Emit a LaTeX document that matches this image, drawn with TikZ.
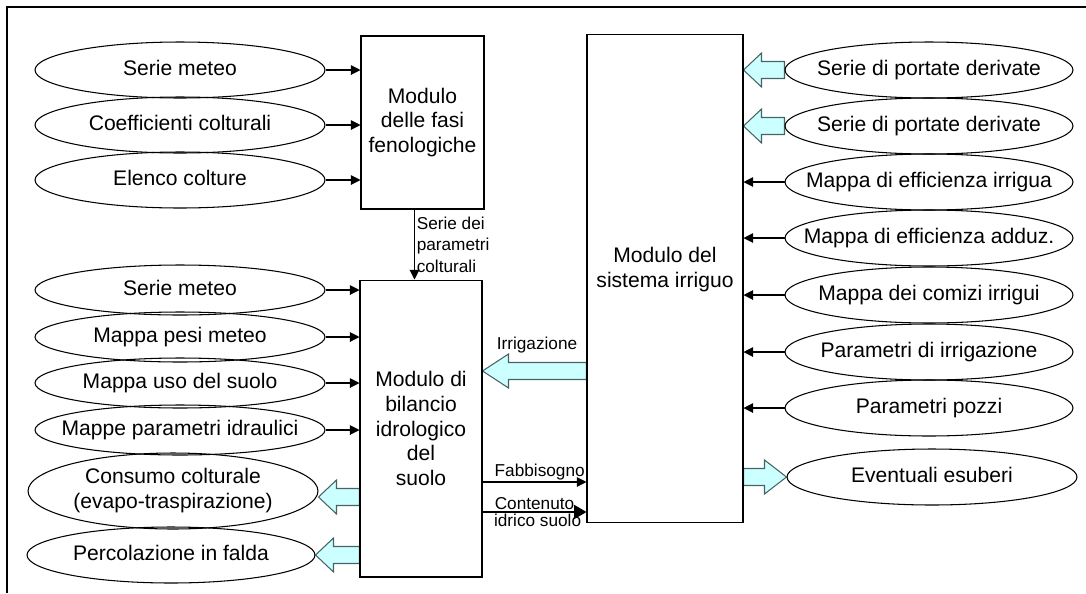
\documentclass[tikz,border=0pt]{standalone}
\usepackage{fontspec}
\setmainfont{Liberation Sans}
\usetikzlibrary{shapes.geometric,arrows.meta,positioning,calc,backgrounds}
\definecolor{fatfill}{RGB}{204,255,255}
\definecolor{fatline}{RGB}{70,100,100}
\tikzset{
  ovalnode/.style={ellipse,draw,line width=0.6pt,inner sep=0pt,minimum width=5.8cm,minimum height=1.12cm,font=\fontsize{12}{14.4}\selectfont},
  modbox/.style={rectangle,draw,line width=0.6pt,align=center,font=\fontsize{12}{14}\selectfont},
  lab/.style={font=\fontsize{9.8}{12.2}\selectfont,inner sep=1pt,align=left},
  arr/.style={-{Triangle[length=5.5pt,width=5.5pt]},line width=0.6pt},
  fatarr/.style={fill=fatfill,draw=fatline,line width=0.6pt},
  frame/.style={line width=1.2pt}
}
\newcommand{\ovtxt}[1]{\makebox[0pt]{\begin{tabular}{@{}c@{}}#1\end{tabular}}}
\newcommand{\fatarrow}[3][0.36cm]{%
  \path[fatarr] let \p1=(#2), \p2=(#3), \p3=($(#3)!#1!(#2)$) in
    (\x1,\y2+0.17cm) -- (\x3,\y2+0.17cm) -- (\x3,\y2+0.34cm) -- (\x2,\y2)
    -- (\x3,\y2-0.34cm) -- (\x3,\y2-0.17cm) -- (\x1,\y2-0.17cm) -- cycle;}

\begin{document}
\begin{tikzpicture}[x=0.02cm,y=-0.02cm]
  \useasboundingbox (0,0) rectangle (1086,593);
  \draw[frame] (7,593) -- (7,7) -- (1086,7);

  % modules
  \node[modbox,minimum width=2.46cm,minimum height=3.46cm] (fasi) at (422.5,122.5) {Modulo\\delle fasi\\fenologiche};
  \node[modbox,minimum width=2.44cm,minimum height=5.94cm] (bil) at (421,428.5) {Modulo di\\bilancio\\idrologico\\del\\suolo};
  \node[modbox,minimum width=3.12cm,minimum height=9.78cm,text depth=0.45cm] (sys) at (665,278.5) {Modulo del\\sistema irriguo};

  % inputs of the phenology module
  \node[ovalnode] (sm1) at (180,70) {\ovtxt{Serie meteo}};
  \node[ovalnode] (cc) at (180,125) {\ovtxt{Coefficienti colturali}};
  \node[ovalnode] (ec) at (180,180) {\ovtxt{Elenco colture}};

  % inputs and outputs of the soil balance module
  \node[ovalnode,minimum height=1cm] (sm2) at (180,290) {\ovtxt{Serie meteo}};
  \node[ovalnode,minimum height=1cm] (mpm) at (180,337) {\ovtxt{Mappa pesi meteo}};
  \node[ovalnode,minimum height=1cm] (mus) at (180,383) {\ovtxt{Mappa uso del suolo}};
  \node[ovalnode,minimum height=1cm] (mpi) at (180,430) {\ovtxt{Mappe parametri idraulici}};
  \node[ovalnode,minimum height=1.52cm] (con) at (173,491) {\ovtxt{Consumo colturale\\(evapo-traspirazione)}};
  \node[ovalnode,minimum width=5.76cm] (per) at (171,555) {\ovtxt{Percolazione in falda}};

  % inputs and outputs of the irrigation module
  \node[ovalnode,minimum width=5.76cm] (rs1) at (929,70) {\ovtxt{Serie di portate derivate}};
  \node[ovalnode,minimum width=5.76cm] (rs2) at (929,126) {\ovtxt{Serie di portate derivate}};
  \node[ovalnode,minimum width=5.76cm] (mei) at (929,182) {\ovtxt{Mappa di efficienza irrigua}};
  \node[ovalnode,minimum width=5.76cm] (mea) at (929,238) {\ovtxt{Mappa di efficienza adduz.}};
  \node[ovalnode,minimum width=5.76cm] (mci) at (929,295) {\ovtxt{Mappa dei comizi irrigui}};
  \node[ovalnode,minimum width=5.76cm] (pir) at (929,352) {\ovtxt{Parametri di irrigazione}};
  \node[ovalnode,minimum width=5.76cm] (ppz) at (929,408) {\ovtxt{Parametri pozzi}};
  \node[ovalnode] (esu) at (932,477) {\ovtxt{Eventuali esuberi}};

  \draw[arr] (sm1.east) -- (sm1.east -| fasi.west);
  \draw[arr] (cc.east) -- (cc.east -| fasi.west);
  \draw[arr] (ec.east) -- (ec.east -| fasi.west);
  \draw[arr] ([xshift=-0.16cm]fasi.south) -- ([xshift=-0.16cm]fasi.south |- bil.north)
    node[lab,midway,right] {Serie dei\\parametri\\colturali};

  \draw[arr] (sm2.east) -- (sm2.east -| bil.west);
  \draw[arr] (mpm.east) -- (mpm.east -| bil.west);
  \draw[arr] (mus.east) -- (mus.east -| bil.west);
  \draw[arr] (mpi.east) -- (mpi.east -| bil.west);

  \draw[arr] (mei.west) -- (mei.west -| sys.east);
  \draw[arr] (mea.west) -- (mea.west -| sys.east);
  \draw[arr] (mci.west) -- (mci.west -| sys.east);
  \draw[arr] (pir.west) -- (pir.west -| sys.east);
  \draw[arr] (ppz.west) -- (ppz.west -| sys.east);

  \draw[arr] ([yshift=-1.07cm]bil.east) coordinate (fb) -- (fb -| sys.west)
    node[lab,above,pos=0.55] {Fabbisogno};
  \draw[-{Triangle[length=7pt,width=8pt]},line width=0.6pt] ([yshift=-1.67cm]bil.east) coordinate (ci) -- (ci -| sys.west)
    node[lab,above,pos=0.5] {Contenuto}
    node[lab,below,pos=0.53] {idrico suolo};

  \coordinate (irr) at ([yshift=-1.85cm]sys.west);
  \node[lab] (lirr) at (537,345) {Irrigazione};

  \begin{scope}[on background layer]
    \fatarrow{rs1.west}{rs1.west -| sys.east}
    \fatarrow{rs2.west}{rs2.west -| sys.east}
    \fatarrow[0.44cm]{esu.west -| sys.east}{esu.west}
    \fatarrow[0.52cm]{irr}{irr -| bil.east}
    \fatarrow{[yshift=-0.12cm]con.east -| bil.west}{[yshift=-0.12cm]con.east}
    \fatarrow{per.east -| bil.west}{per.east}
  \end{scope}
\end{tikzpicture}
\end{document}
